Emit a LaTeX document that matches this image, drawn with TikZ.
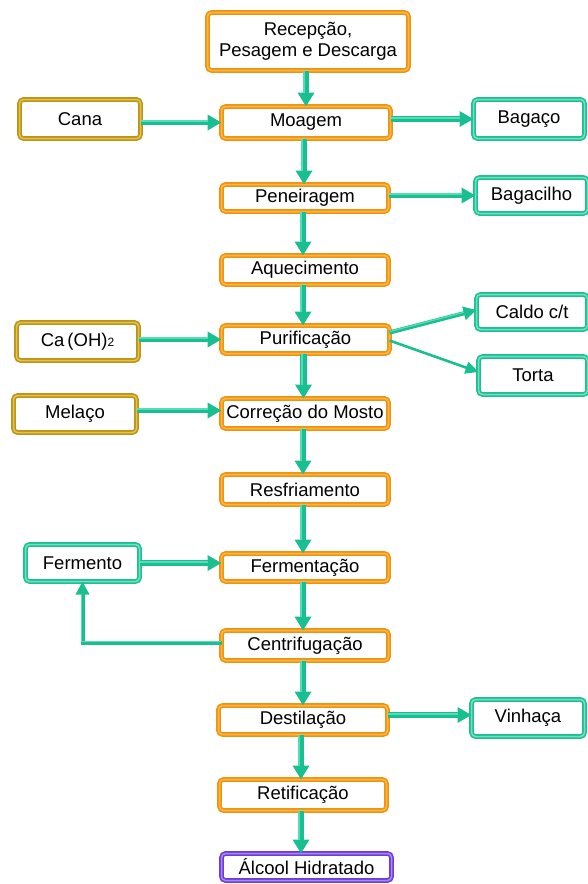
\documentclass[tikz,border=0pt]{standalone}
\usepackage{fontspec}
\setmainfont{Liberation Sans}
\usetikzlibrary{arrows.meta}

\definecolor{orM}{HTML}{F0940F}
\definecolor{orL}{HTML}{FFB648}
\definecolor{goM}{HTML}{BE9414}
\definecolor{goL}{HTML}{E2C250}
\definecolor{tlM}{HTML}{1FBF94}
\definecolor{tlL}{HTML}{6FE3C0}
\definecolor{puM}{HTML}{6E3CDC}
\definecolor{puL}{HTML}{A88AF2}
\definecolor{arM}{HTML}{19BF90}
\definecolor{arL}{HTML}{55DDB6}

\tikzset{
  box/.style={rounded corners=4pt, line width=1.6pt, double distance=1.5pt,
    inner sep=0pt, outer sep=0pt, fill=white, align=center,
    font=\fontsize{18.5}{21}\selectfont},
  procbox/.style={box, draw=orM, double=orL},
  inbox/.style={box, draw=goM, double=goL},
  outbox/.style={box, draw=tlM, double=tlL},
  endbox/.style={box, draw=puM, double=puL},
  varrow/.style={draw=arM, line width=6.5pt,
    -{Triangle[width=16pt,length=14pt]},
    postaction={draw=arL, line width=2pt, -, shorten >=14pt,
      transform canvas={xshift=-1.6pt}}},
  harrow/.style={draw=arM, line width=5.5pt,
    -{Triangle[width=15pt,length=14pt]},
    postaction={draw=arL, line width=1.8pt, -, shorten >=14pt,
      transform canvas={yshift=1.4pt}}},
  slimarrow/.style={draw=arM, line width=4.2pt,
    -{Triangle[width=13pt,length=13pt]},
    postaction={draw=arL, line width=1.3pt, -, shorten >=13pt,
      transform canvas={yshift=1pt}}},
  thinarrow/.style={draw=arM, line width=2.6pt,
    -{Triangle[width=12pt,length=13pt]}},
  backarrow/.style={draw=arM, line width=4pt,
    -{Triangle[width=13pt,length=13pt]},
    postaction={draw=arL, line width=1.3pt, -, shorten >=13pt,
      transform canvas={xshift=-1pt,yshift=1pt}}},
}

\begin{document}
\begin{tikzpicture}[x=1pt,y=-1pt]
\useasboundingbox (0,0) rectangle (588,884);

% main process column
\node[procbox, minimum width=201pt, minimum height=58pt] (rec) at (308,41.5)
  {Recepção,\\Pesagem e Descarga};
\node[procbox, minimum width=169pt, minimum height=32pt] (moag) at (306,122.5) {Moagem};
\node[procbox, minimum width=167pt, minimum height=27pt] (pen) at (305,198) {Peneiragem};
\node[procbox, minimum width=167pt, minimum height=29pt] (aq) at (305,270) {Aquecimento};
\node[procbox, minimum width=168pt, minimum height=28pt] (pur) at (305.5,339.5) {Purificação};
\node[procbox, minimum width=167pt, minimum height=30pt] (cor) at (305,413.5) {Correção do Mosto};
\node[procbox, minimum width=167pt, minimum height=30pt] (res) at (305,489.5) {Resfriamento};
\node[procbox, minimum width=167pt, minimum height=28pt] (fmt) at (305,567.5) {Fermentação};
\node[procbox, minimum width=167pt, minimum height=30pt] (cen) at (305,645.5) {Centrifugação};
\node[procbox, minimum width=169pt, minimum height=29pt] (des) at (303,720) {Destilação};
\node[procbox, minimum width=167pt, minimum height=31pt] (ret) at (303,795) {Retificação};
\node[endbox, minimum width=170pt, minimum height=27pt] (alc) at (306.5,867) {Álcool Hidratado};

% inputs
\node[inbox, minimum width=121pt, minimum height=39pt] (cana) at (80,119) {Cana};
\node[inbox, minimum width=122pt, minimum height=38pt] (caoh) at (77.5,341.5)
  {Ca\,(OH)\fontsize{12}{12}\selectfont 2};
\node[inbox, minimum width=123pt, minimum height=37pt] (mel) at (75,414) {Melaço};
\node[outbox, minimum width=114pt, minimum height=37pt] (ferm) at (82.5,563) {Fermento};

% outputs
\node[outbox, minimum width=111pt, minimum height=39pt] (bag) at (529,119) {Bagaço};
\node[outbox, minimum width=112pt, minimum height=36pt] (bgc) at (531.5,195.5) {Bagacilho};
\node[outbox, minimum width=111pt, minimum height=35pt] (cal) at (532,312) {Caldo c/t};
\node[outbox, minimum width=109pt, minimum height=38pt] (tor) at (533,375.5) {Torta};
\node[outbox, minimum width=113pt, minimum height=37pt] (vin) at (528,718) {Vinhaça};

% main flow
\foreach \a/\b in {rec/moag, moag/pen, pen/aq, aq/pur, pur/cor, cor/res,
                   res/fmt, fmt/cen, cen/des, des/ret, ret/alc}
  \draw[varrow] ([xshift=-2pt]\a.south) -- ([xshift=-2pt]\a.south |- \b.north);

% side feeds
\draw[harrow] (moag.west -| cana.east) -- (moag.west);
\draw[harrow] ([yshift=3pt]cor.west -| mel.east) -- ([yshift=3pt]cor.west);
\draw[harrow] (pur.west -| caoh.east) -- (pur.west);
\draw[harrow] (ferm.east) -- (ferm.east -| fmt.west);

% by-products
\draw[harrow] (bag.west -| moag.east) -- (bag.west);
\draw[harrow] (bgc.west -| pen.east) -- (bgc.west);
\draw[harrow] ([yshift=3pt]vin.west -| des.east) -- ([yshift=3pt]vin.west);
\draw[slimarrow] ([yshift=7pt]pur.east) -- ([yshift=2pt]cal.west);
\draw[thinarrow] ([yshift=-1pt]pur.east) -- ([yshift=3.5pt]tor.west);

% yeast recycle
\draw[backarrow] ([yshift=3pt]cen.west) -| (ferm.south);
\end{tikzpicture}
\end{document}
